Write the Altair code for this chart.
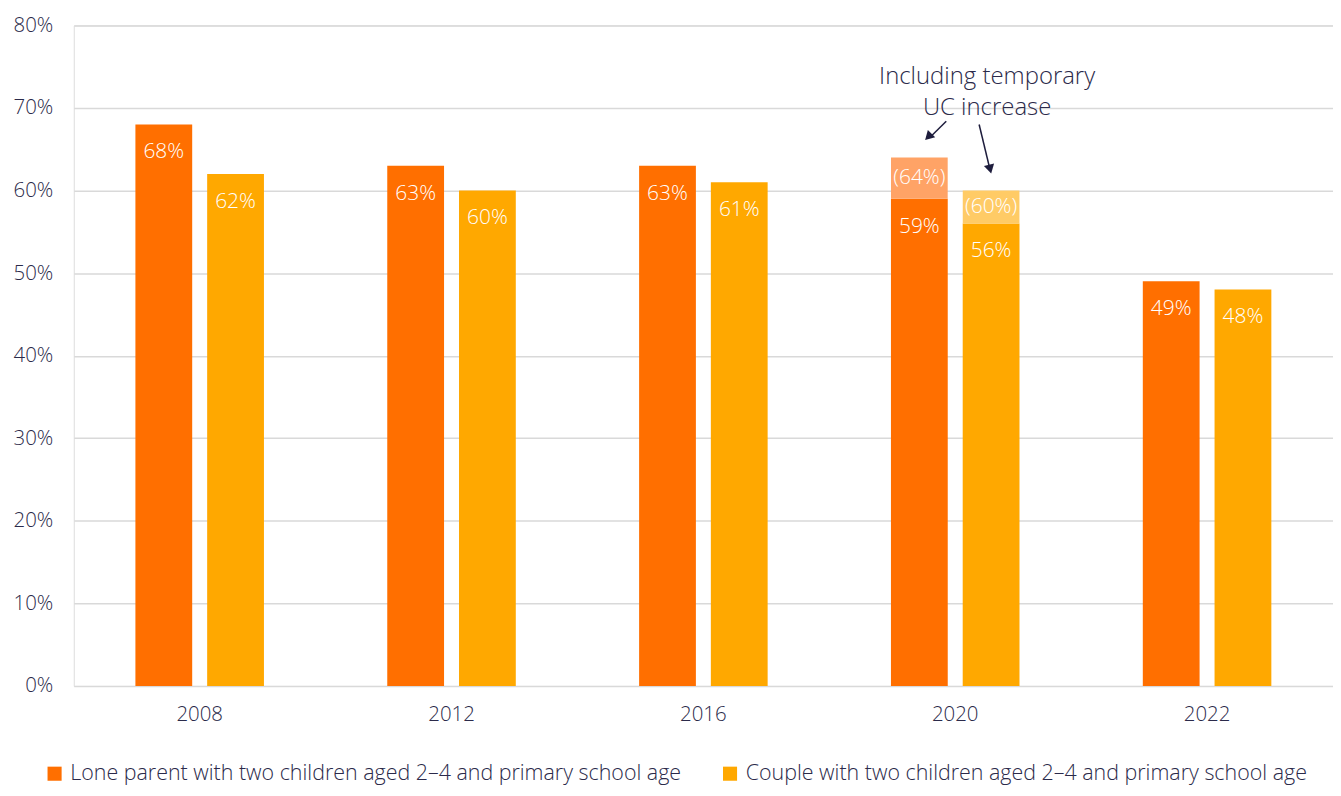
import altair as alt
import pandas as pd

years = ["2008", "2012", "2016", "2020", "2022"]
series = ["Lone parent with two children aged 2\u20134 and primary school age",
          "Couple with two children aged 2\u20134 and primary school age"]
lone = [68, 63, 63, 59, 49]
couple = [62, 60, 61, 56, 48]
# 2020 values including the temporary UC increase
uc_year = "2020"
lone_uc = 64
couple_uc = 60
colors = ["#FF6F00", "#FFA800"]
light_colors = ["#FFA366", "#FFCB66"]
note_lines = ["Including temporary", "UC increase"]

FONT = "Open Sans"
W = 300
TXT = "#2B2A4A"
AX = 20.5

rows = []
for i, y in enumerate(years):
    rows.append({"year": y, "series": series[0], "value": lone[i]})
    rows.append({"year": y, "series": series[1], "value": couple[i]})
df = pd.DataFrame(rows)

extra = pd.DataFrame([
    {"year": uc_year, "series": series[0], "base": lone[years.index(uc_year)], "top": lone_uc},
    {"year": uc_year, "series": series[1], "base": couple[years.index(uc_year)], "top": couple_uc},
])

xenc = alt.X("year:N", title=None, sort=years,
             scale=alt.Scale(paddingInner=0, paddingOuter=0),
             axis=alt.Axis(labelFontSize=AX, labelColor=TXT, labelFont=FONT, labelFontWeight=W,
                           ticks=False, domain=False, labelPadding=19, labelAngle=0))
yscale = alt.Scale(domain=[0, 80])
xoff = alt.XOffset("series:N", sort=series,
                   scale=alt.Scale(paddingInner=0.21, paddingOuter=0.86))
cenc = alt.Color("series:N", sort=series,
                 scale=alt.Scale(domain=series, range=colors),
                 legend=alt.Legend(title=None, orient="none", direction="horizontal",
                                   legendX=-30, legendY=740, symbolType="square",
                                   symbolSize=200, symbolStrokeWidth=0, symbolOpacity=1,
                                   labelFontSize=21.5, labelFont=FONT, labelFontWeight=W,
                                   labelColor=TXT,
                                   columnPadding=38, labelOffset=5, labelLimit=800))

base = alt.Chart(df)

bars = base.mark_bar(size=57).encode(
    x=xenc,
    xOffset=xoff,
    y=alt.Y("value:Q", scale=yscale, title=None,
            axis=alt.Axis(values=list(range(0, 81, 10)), labelExpr="datum.value + '%'",
                          labelFontSize=AX, labelColor=TXT, labelFont=FONT, labelFontWeight=W,
                          ticks=False, domain=False, labelPadding=21,
                          gridColor="#D9D9D9", gridWidth=1.5)),
    color=cenc,
)

labels = base.mark_text(color="white", fontSize=21, font=FONT, fontWeight=W,
                        baseline="middle", dy=28).encode(
    x=alt.X("year:N", sort=years),
    xOffset=xoff,
    y=alt.Y("value:Q", scale=yscale),
    text=alt.Text("lab:N"),
).transform_calculate(lab="datum.value + '%'")

ext = alt.Chart(extra)
ext_bars = ext.mark_bar().encode(
    x=alt.X("year:N", sort=years),
    xOffset=xoff,
    y=alt.Y("base:Q", scale=yscale),
    y2="top:Q",
    fill=alt.Fill("series:N", sort=series,
                  scale=alt.Scale(domain=series, range=light_colors), legend=None),
)
ext_labels = ext.mark_text(color="white", fontSize=21, font=FONT, fontWeight=W,
                           baseline="middle").encode(
    x=alt.X("year:N", sort=years),
    xOffset=xoff,
    y=alt.Y("mid:Q", scale=yscale),
    text="lab:N",
).transform_calculate(mid="(datum.base + datum.top) / 2", lab="'(' + datum.top + '%)'")

note = alt.Chart(pd.DataFrame({"year": [uc_year, uc_year], "t": note_lines, "v": [73.8, 70.0]})).mark_text(
    fontSize=24, font=FONT, fontWeight=W, color=TXT, xOffset=32, baseline="middle").encode(
    x=alt.X("year:N", sort=years), y=alt.Y("v:Q", scale=yscale), text="t:N")

arrow_color = "#1E1D3D"
a1 = alt.Chart(pd.DataFrame({"year": [uc_year], "y1": [68.4], "y2": [66.6]})).mark_rule(
    color=arrow_color, strokeWidth=1.5, xOffset=-9, x2Offset=-24).encode(
    x=alt.X("year:N", sort=years), x2="year:N", y=alt.Y("y1:Q", scale=yscale), y2="y2:Q")
h1 = alt.Chart(pd.DataFrame({"year": [uc_year], "y": [66.5]})).mark_point(
    shape="triangle-up", filled=True, size=110, color=arrow_color, opacity=1, angle=225,
    xOffset=-27).encode(x=alt.X("year:N", sort=years), y=alt.Y("y:Q", scale=yscale))
a2 = alt.Chart(pd.DataFrame({"year": [uc_year], "y1": [68.0], "y2": [63.0]})).mark_rule(
    color=arrow_color, strokeWidth=1.5, xOffset=24, x2Offset=34).encode(
    x=alt.X("year:N", sort=years), x2="year:N", y=alt.Y("y1:Q", scale=yscale), y2="y2:Q")
h2 = alt.Chart(pd.DataFrame({"year": [uc_year], "y": [62.6]})).mark_point(
    shape="triangle-up", filled=True, size=110, color=arrow_color, opacity=1, angle=166,
    xOffset=35).encode(x=alt.X("year:N", sort=years), y=alt.Y("y:Q", scale=yscale))

chart = alt.layer(bars, ext_bars, labels, ext_labels, note, a1, h1, a2, h2).properties(
    width=1264, height=663,
    autosize=alt.AutoSizeParams(type="none"),
    padding={"left": 66, "top": 16, "right": 0, "bottom": 98},
).configure_view(stroke=None).configure(background="white")

chart.save("out.html", embed_options={"renderer": "svg", "actions": False})
